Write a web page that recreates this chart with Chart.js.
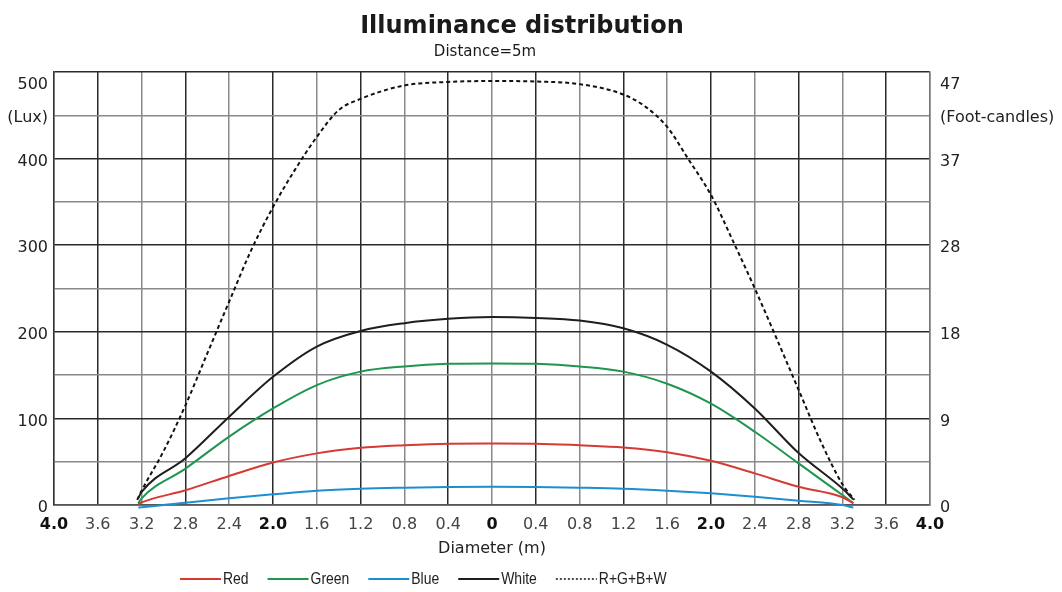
<!DOCTYPE html>
<html lang="en">
<head>
<meta charset="UTF-8">
<title>Illuminance distribution</title>
<script src="https://cdn.jsdelivr.net/npm/chart.js"></script>
<style>
  html, body { margin: 0; padding: 0; background: #fff; }
  #wrap { width: 1062px; height: 592px; }
</style>
</head>
<body>
<div id="wrap"><canvas id="myChart"></canvas></div>
<script>
// sample positions across the beam (m)
const diameter = [-3.23, -3.2, -2.8, -2.4, -2.0, -1.6, -1.2, -0.8, -0.4, 0, 0.4, 0.8, 1.2, 1.6, 2.0, 2.4, 2.8, 3.2, 3.3];
const redLux   = [1, 3, 17, 33.5, 49, 59.6, 66, 69, 70.8, 71, 70.8, 69, 66.5, 61, 51, 36.5, 21, 9, 2];
const greenLux = [2, 7.7, 42, 79, 111.5, 138.5, 154, 160, 163, 163.5, 163, 160, 154, 140, 117, 84.6, 48, 11.5, 2];
const blueLux  = [-3, -2.7, 2.7, 7.7, 12.3, 16.5, 18.8, 20, 20.8, 21, 20.8, 20, 18.8, 16.5, 13.5, 9.6, 5, 0, -3];
const whiteLux = [8, 15, 54, 102, 148, 183, 201, 210, 215, 217, 216, 213, 204, 185, 154, 111.5, 60, 19, 6.5];

// the combined curve has more points since it bends harder
const rgbwDiameter = [-3.24, -3.2, -3.0, -2.8, -2.6, -2.4, -2.2, -2.0, -1.8, -1.6, -1.4, -1.2, -0.8, -0.4, 0, 0.4, 0.8, 1.2, 1.4, 1.6, 1.8, 2.0, 2.2, 2.4, 2.6, 2.8, 3.0, 3.2, 3.31];
const rgbwLux      = [6, 16.5, 62, 115, 175, 235, 294, 344, 387, 425, 456, 469, 484.5, 488.5, 489.6, 489, 486, 474, 460, 436.5, 398, 358, 305, 250, 192, 133, 74, 24, 6];

// axis labels
const luxTicks = [0, 100, 200, 300, 400, 450, 500];
const luxLabels = ['0', '100', '200', '300', '400', '(Lux)', '500'];
const fcLabels = ['0', '9', '18', '28', '37', '(Foot-candles)', '47'];
const boldDiameters = [0, 2, 4];

const titleText = 'Illuminance distribution';
const subtitleText = 'Distance=5m';
const xTitle = 'Diameter (m)';

function pts(xs, ys) {
    return xs.map((x, i) => ({ x: x, y: ys[i] }));
}

function yLabel(labels) {
    return function (value) {
        const i = luxTicks.indexOf(value);
        if (i < 0) return '';
        // top label sits a bit below the frame
        if (value === 500) return ['', labels[i]];
        return labels[i];
    };
}

function isBold(ctx) {
    if (!ctx.tick) return false;
    const v = Math.abs(ctx.tick.value);
    return boldDiameters.some(b => Math.abs(b - v) < 1e-6);
}

Chart.defaults.font.family = "'DejaVu Sans', sans-serif";
Chart.defaults.color = '#222';

// title, subtitle and the key are drawn by hand so they can sit off-centre like the original
const headerAndKey = {
    id: 'headerAndKey',
    afterDraw(chart) {
        const ctx = chart.ctx;
        ctx.save();
        ctx.fillStyle = '#1a1a1a';
        ctx.textAlign = 'center';
        ctx.textBaseline = 'alphabetic';
        ctx.font = "bold 24px 'DejaVu Sans'";
        ctx.fillText(titleText, 522, 33);
        ctx.font = "15px 'DejaVu Sans'";
        ctx.fillText(subtitleText, 485, 56);

        // key text is narrow in the original, so squeeze it horizontally
        const squeeze = 0.82;
        ctx.font = "17px 'Liberation Sans', Arial, sans-serif";
        ctx.textAlign = 'left';
        ctx.textBaseline = 'middle';
        const y = 579;
        let x = 180;
        chart.data.datasets.forEach(ds => {
            ctx.strokeStyle = ds.borderColor;
            ctx.lineWidth = ds.borderDash ? 1.5 : 2;
            ctx.setLineDash(ds.borderDash ? [2, 2] : []);
            ctx.beginPath();
            ctx.moveTo(x, y);
            ctx.lineTo(x + 41, y);
            ctx.stroke();
            ctx.setLineDash([]);
            ctx.fillStyle = '#222';
            ctx.save();
            ctx.translate(x + 43, y);
            ctx.scale(squeeze, 1);
            ctx.fillText(ds.label, 0, 0);
            ctx.restore();
            x += 43 + ctx.measureText(ds.label).width * squeeze + 19;
        });
        ctx.restore();
    }
};

const config = {
    type: 'line',
    data: {
        datasets: [
            { label: 'Red', data: pts(diameter, redLux), borderColor: '#d63a33' },
            { label: 'Green', data: pts(diameter, greenLux), borderColor: '#1e9650' },
            { label: 'Blue', data: pts(diameter, blueLux), borderColor: '#1b8fd2' },
            { label: 'White', data: pts(diameter, whiteLux), borderColor: '#1e1e1e' },
            { label: 'R+G+B+W', data: pts(rgbwDiameter, rgbwLux), borderColor: '#111', borderDash: [4, 3] }
        ]
    },
    options: {
        responsive: true,
        maintainAspectRatio: false,
        animation: false,
        layout: { padding: { top: 72, bottom: 34, left: 0, right: 0 } },
        datasets: {
            line: {
                borderWidth: 2,
                pointRadius: 0,
                cubicInterpolationMode: 'monotone',
                clip: 5
            }
        },
        plugins: {
            legend: { display: false },
            tooltip: { enabled: false }
        },
        scales: {
            x: {
                type: 'linear',
                min: -4,
                max: 4,
                afterFit(scale) { scale.height = 53; },
                border: { color: '#555', width: 1.5 },
                grid: {
                    drawTicks: false,
                    lineWidth: 1.5,
                    color: ctx => ((ctx.index || 0) % 2 ? '#2a2a2a' : '#8a8a8a')
                },
                ticks: {
                    stepSize: 0.4,
                    autoSkip: false,
                    maxRotation: 0,
                    padding: 10,
                    font: ctx => ({ size: 16, weight: isBold(ctx) ? 'bold' : 'normal' }),
                    color: ctx => (isBold(ctx) ? '#111' : '#444'),
                    callback: v => (Math.abs(v) < 1e-6 ? '0' : Math.abs(v).toFixed(1))
                },
                title: {
                    display: true,
                    text: xTitle,
                    font: { size: 16 },
                    color: '#222',
                    padding: { top: 0, bottom: 0 }
                }
            },
            y: {
                min: 0,
                max: 500,
                afterFit(scale) { scale.width = 54; },
                border: { color: '#333', width: 1.5 },
                grid: {
                    drawTicks: false,
                    lineWidth: 1.5,
                    color: ctx => (ctx.tick && ctx.tick.value % 100 !== 0 ? '#8a8a8a' : '#2a2a2a')
                },
                ticks: {
                    stepSize: 50,
                    padding: 6,
                    labelOffset: 3,
                    font: { size: 16 },
                    color: '#222',
                    callback: yLabel(luxLabels)
                }
            },
            y2: {
                position: 'right',
                min: 0,
                max: 500,
                afterFit(scale) { scale.width = 132; },
                border: { display: true, color: '#777', width: 1.5 },
                grid: { display: false, drawTicks: false },
                ticks: {
                    stepSize: 50,
                    padding: 10,
                    labelOffset: 3,
                    font: { size: 16 },
                    color: '#222',
                    callback: yLabel(fcLabels)
                }
            }
        }
    },
    plugins: [headerAndKey]
};

const myChart = new Chart(document.getElementById('myChart'), config);
</script>
</body>
</html>
